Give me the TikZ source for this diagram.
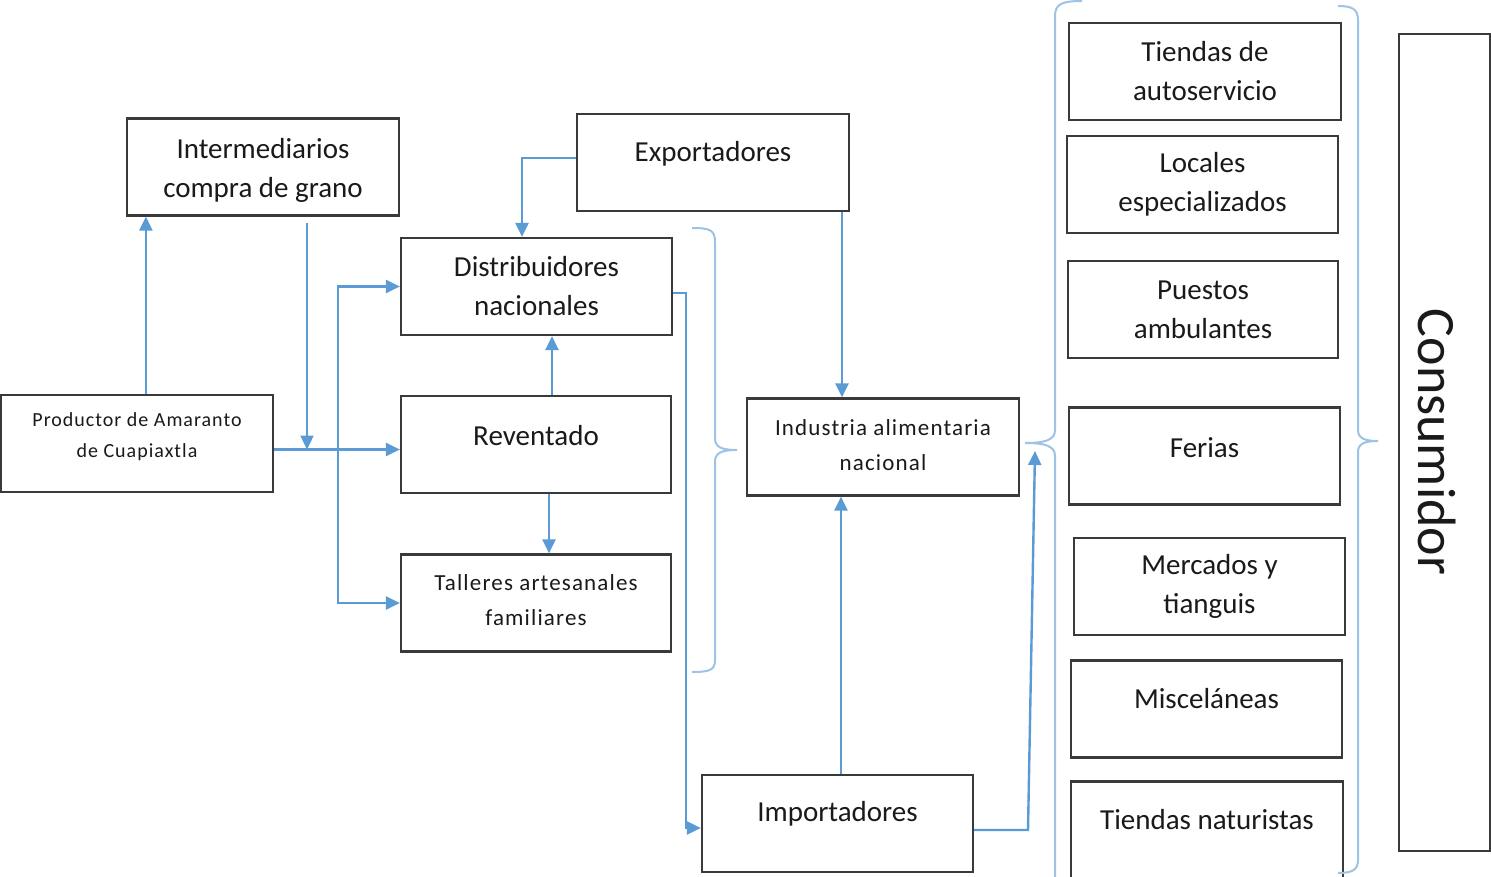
\documentclass[tikz,border=0pt]{standalone}
\usepackage{fontspec}
\setmainfont{Carlito}
\newfontfamily\spfont[LetterSpace=5]{Carlito}
\usetikzlibrary{arrows.meta}
\definecolor{lineblue}{HTML}{5B9BD5}
\definecolor{braceblue}{HTML}{9DC3E6}
\definecolor{boxgray}{HTML}{3A3A3A}
\definecolor{txt}{HTML}{1A1A1A}
\begin{document}
\begin{tikzpicture}[x=1pt,y=-1pt,
  box/.style={draw=boxgray,line width=2.2pt,inner sep=0pt,minimum width=271pt,minimum height=97pt},
  lbl/.style={align=center,inner sep=0pt,text=txt,font=\fontsize{29}{39}\selectfont},
  slbl/.style={align=center,inner sep=0pt,text=txt,font=\spfont\fontsize{23}{35}\selectfont},
  plbl/.style={align=center,inner sep=0pt,text=txt,font=\spfont\fontsize{20}{31}\selectfont},
  arr/.style={draw=lineblue,line width=2.4pt,-{Triangle[length=14pt,width=13pt]}},
  brace/.style={draw=braceblue,line width=2pt}]
\useasboundingbox (0,0) rectangle (1491,877);
\fill[white] (0,0) rectangle (1491,877);

% boxes
\node[box] (prod)  at (137,443.5) [minimum width=272pt] {};
\node[box] (inter) at (263,167) [minimum width=272pt] {};
\node[box] (dist)  at (536.5,286.5) {};
\node[box] (rev)   at (536,444.5) [minimum width=270pt] {};
\node[box] (tall)  at (536,603) [minimum width=270pt] {};
\node[box] (exp)   at (713,162.5) [minimum width=272pt] {};
\node[box] (ind)   at (883,447) [minimum width=272pt] {};
\node[box] (imp)   at (837.5,823.5) {};
\node[box] (r1) at (1205,71.5) [minimum width=272pt] {};
\node[box] (r2) at (1202.5,184.5) {};
\node[box] (r3) at (1203,309.5) [minimum width=270pt] {};
\node[box] (r4) at (1204.5,456) {};
\node[box] (r5) at (1209.5,586.5) {};
\node[box] (r6) at (1206.5,709) {};
\node[box] (r7) at (1207,830) [minimum width=272pt] {};
\node[box] (cons) at (1444.5,442.5) [minimum width=91pt,minimum height=817pt] {};

% labels
\node[plbl] (tprod) at (137,437) {Productor de Amaranto\\de Cuapiaxtla};
\node[lbl] (tinter) at (263,170) {Intermediarios\\compra de grano};
\node[lbl] (tdist) at (536.5,286.5) {Distribuidores\\nacionales};
\node[lbl] (trev) at (536,436) {Reventado};
\node[slbl] (ttall) at (536,600) {Talleres artesanales\\familiares};
\node[lbl] (texp) at (713,154) {Exportadores};
\node[slbl] (tind) at (883,445) {Industria alimentaria\\nacional};
\node[lbl] (timp) at (837.5,814) {Importadores};
\node[lbl] (tr1) at (1205,71.5) {Tiendas de\\autoservicio};
\node[lbl] (tr2) at (1202.5,184.5) {Locales\\especializados};
\node[lbl] (tr3) at (1203,309.5) {Puestos\\ambulantes};
\node[lbl] (tr4) at (1204.5,448) {Ferias};
\node[lbl] (tr5) at (1209.5,586.5) {Mercados y\\tianguis};
\node[lbl] (tr6) at (1206.5,699) {Misceláneas};
\node[lbl] (tr7) at (1207,819.5) {Tiendas naturistas};
\node[inner sep=0pt,text=txt,font=\fontsize{54}{60}\selectfont,rotate=-90] (tcons) at (1437,442) {Consumidor};

% helper coordinates
\coordinate (prodOut) at ([yshift=-6pt]prod.east);
\coordinate (iDown) at ([xshift=44pt,yshift=-6pt]inter.south);
\coordinate (busX) at (338,450);
\coordinate (dOut) at ([yshift=-6.5pt]dist.east);
\coordinate (iIn) at ([yshift=-4.5pt]imp.west);
\coordinate (xD) at (686,0);
\coordinate (eOut) at ([yshift=4.5pt]exp.west);
\coordinate (impOut) at ([yshift=-6.5pt]imp.east);
\coordinate (xI) at (1028,0);
\coordinate (indIn) at (1035,451);

% connectors
\draw[arr] ([xshift=146pt]prod.north west) -- ([xshift=146pt]prod.north west |- inter.south);
\draw[arr] (iDown) -- (iDown |- prodOut);
\draw[arr] (prodOut) -- (prodOut -| rev.west);
\draw[arr] (busX |- tall.west) -- (busX |- dist.west) -- (dist.west);
\draw[arr] (busX |- dist.west) -- (busX |- tall.west) -- (tall.west);
\draw[arr] ([xshift=16pt]rev.north) -- ([xshift=16pt]rev.north |- dist.south);
\draw[arr] ([xshift=13pt]rev.south) -- ([xshift=13pt]rev.south |- tall.north);
\draw[arr] (eOut) -| ([xshift=-14.5pt]dist.north);
\draw[arr] ([xshift=129pt]exp.south) -- ([xshift=129pt]exp.south |- ind.north);
\draw[arr] (dOut) -- (dOut -| xD) -- (xD |- iIn) -- (iIn);
\draw[arr] ([xshift=3.5pt]imp.north) -- ([xshift=3.5pt]imp.north |- ind.south);
\draw[arr] (impOut) -- (impOut -| xI) -- (indIn);

% braces
\draw[brace] (692,228) .. controls (710,228) and (715,230) .. (715,242) -- (715,438)
  .. controls (715,447) and (721,450) .. (737,450)
  .. controls (721,450) and (715,453) .. (715,462) -- (715,660)
  .. controls (715,670) and (710,672) .. (692,672);
\draw[brace] (1082,1) .. controls (1062,1) and (1055,4) .. (1055,16) -- (1055,430)
  .. controls (1055,440) and (1045,443) .. (1025,443)
  .. controls (1045,443) and (1055,446) .. (1055,456) -- (1055,890);
\draw[brace] (1338,6) .. controls (1352,6) and (1358,9) .. (1358,20) -- (1358,430)
  .. controls (1358,438) and (1364,441) .. (1378,441)
  .. controls (1364,441) and (1358,444) .. (1358,452) -- (1358,860)
  .. controls (1358,870) and (1352,873) .. (1338,873);
\end{tikzpicture}
\end{document}
